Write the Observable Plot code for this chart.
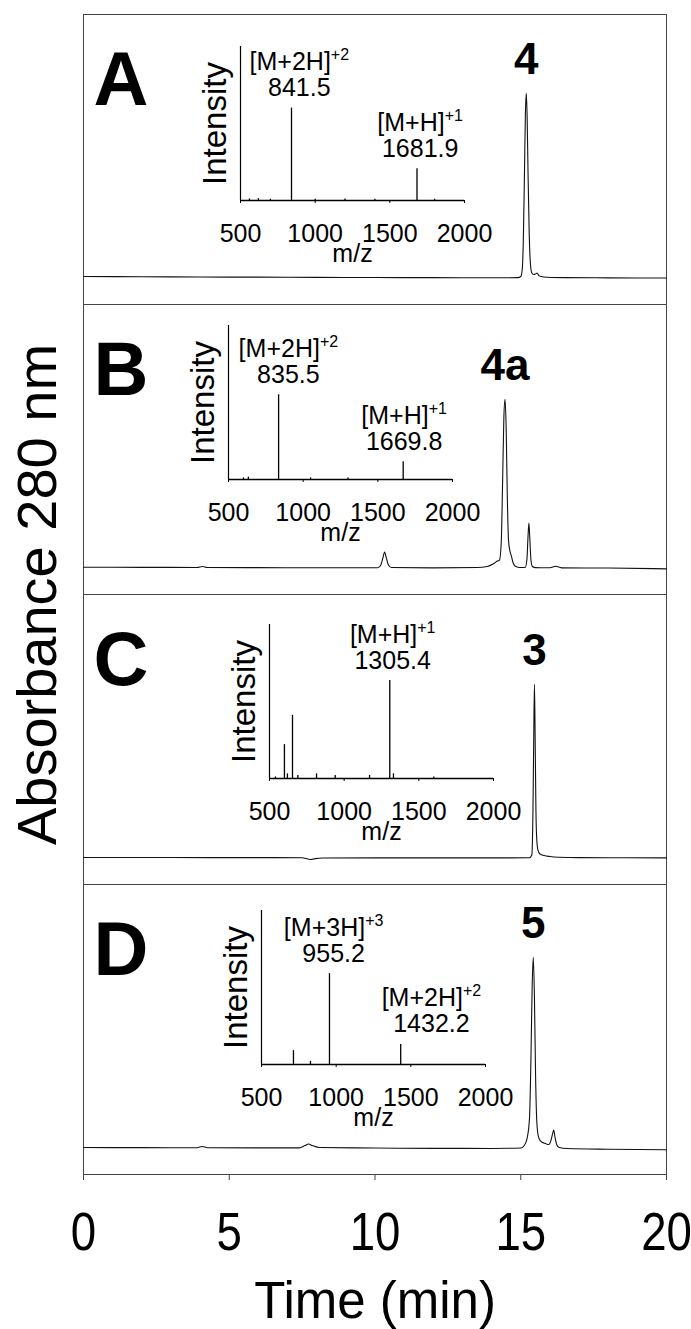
<!DOCTYPE html>
<html><head><meta charset="utf-8">
<script src="https://cdn.jsdelivr.net/npm/d3@7"></script>
<script src="https://cdn.jsdelivr.net/npm/@observablehq/plot@0.6"></script>
<style>
body{margin:0;background:#fff}
#wrap{position:relative;width:691px;height:1329px;overflow:hidden;background:#fff}
#wrap svg{position:absolute;left:0;top:0}
</style></head><body><div id="wrap"></div>
<script>
// ---------- data ----------
const panels = ["A", "B", "C", "D"];
const compounds = ["4", "4a", "3", "5"];
const xTicks = [0, 5, 10, 15, 20];
const mzTicks = [500, 1000, 1500, 2000];
const xTitle = "Time (min)";
const yTitle = "Absorbance 280 nm";

// chromatograms (time in min, absorbance in arbitrary units)
const timeA = [0, 2, 4, 6, 8, 10, 12, 14, 14.9, 15.0, 15.05, 15.09, 15.13, 15.16, 15.19, 15.22, 15.25, 15.29, 15.33, 15.38, 15.44, 15.5, 15.56, 15.62, 15.7, 15.9, 16.5, 18, 20];
const absA  = [1.5, 1.3, 1.0, 0.9, 0.7, 0.5, 0.4, 0.3, 0.4, 1.5, 8, 40, 110, 165, 185, 160, 105, 45, 15, 5, 3.5, 4, 5, 2.5, 1.5, 0.8, 0.4, 0.2, 0];
const timeB = [0, 2, 3.9, 4.08, 4.25, 6, 8, 10.1, 10.2, 10.27, 10.33, 10.39, 10.46, 10.56, 12, 13.5, 13.85, 14.05, 14.2, 14.27, 14.33, 14.38, 14.42, 14.46, 14.5, 14.54, 14.58, 14.63, 14.68, 14.74, 14.8, 14.95, 15.15, 15.21, 15.25, 15.28, 15.31, 15.35, 15.4, 15.5, 16.0, 16.2, 16.4, 18, 20];
const absB  = [0.8, 0.7, 0.6, 1.6, 0.6, 0.4, 0.3, 0.3, 3, 10, 16, 10, 3, 0.5, 0.2, 0.5, 1.5, 4, 7, 8, 25, 90, 150, 169, 140, 70, 28, 17, 12, 5, 2, 0.6, 0.6, 8, 32, 45, 30, 8, 1.5, 0.4, 0.3, 1.8, 0.2, 0, -0.8];
const timeC = [0, 3, 6, 7.5, 7.7, 7.8, 7.95, 8.2, 10, 12, 14, 15.3, 15.38, 15.42, 15.445, 15.47, 15.495, 15.52, 15.55, 15.59, 15.66, 15.8, 16.0, 16.3, 17, 18.5, 20];
const absC  = [0.6, 0.5, 0.4, 0.3, -1.0, -1.5, -0.6, 0.1, 0.2, 0.2, 0.2, 0.3, 3, 50, 120, 174, 118, 50, 18, 8, 4, 2.5, 1.5, 0.8, 0.4, 0.3, 0.2];
const timeD = [0, 2, 3.9, 4.08, 4.25, 6, 7.4, 7.6, 7.72, 7.85, 8.1, 10, 12, 14, 15.0, 15.12, 15.22, 15.3, 15.35, 15.39, 15.43, 15.47, 15.51, 15.56, 15.62, 15.72, 15.85, 15.96, 16.04, 16.09, 16.13, 16.18, 16.24, 16.32, 16.6, 18, 20];
const absD  = [0.5, 0.4, 0.3, 1.6, 0.3, 0.2, 0.2, 2.5, 4, 2.5, 0.5, 0, -0.3, -0.4, 0, 2.5, 10, 30, 90, 160, 191, 150, 70, 22, 10, 6, 4.5, 3.5, 8, 14, 18, 10, 3, 0.5, -0.5, -1.2, -1.7];

// mass spectra (m/z, relative intensity)
const mzA  = [560, 620, 700, 841.5, 1000, 1200, 1400, 1681.9, 1800];
const intA = [0.01, 0.012, 0.008, 0.60, 0.008, 0.01, 0.008, 0.206, 0.008];
const mzB  = [600, 633, 835.5, 1050, 1300, 1669.8];
const intB = [0.01, 0.015, 0.55, 0.01, 0.01, 0.115];
const mzC  = [540, 600, 620, 654, 690, 815, 940, 1170, 1305.4, 1330, 1600];
const intC = [0.01, 0.22, 0.03, 0.41, 0.02, 0.03, 0.02, 0.02, 0.636, 0.03, 0.01];
const mzD  = [714, 828, 955.2, 1432.2];
const intD = [0.09, 0.02, 0.59, 0.13];

// annotated ions: label, m/z, intensity, m/z where the label is centred
const ionNameA = ["[M+2H]^+2", "[M+H]^+1"], ionMzA = [841.5, 1681.9], ionIntA = [0.60, 0.206], ionAtA = [894, 1703];
const ionNameB = ["[M+2H]^+2", "[M+H]^+1"], ionMzB = [835.5, 1669.8], ionIntB = [0.55, 0.115], ionAtB = [901, 1676];
const ionNameC = ["[M+H]^+1"], ionMzC = [1305.4], ionIntC = [0.636], ionAtC = [1325];
const ionNameD = ["[M+3H]^+3", "[M+2H]^+2"], ionMzD = [955.2, 1432.2], ionIntD = [0.59, 0.13], ionAtD = [983, 1638];

// ---------- tables ----------
const traces = {A: [timeA, absA], B: [timeB, absB], C: [timeC, absC], D: [timeD, absD]};
const chrom = panels.flatMap(p => traces[p][0].map((t, i) => ({panel: p, t, a: traces[p][1][i]})));
const compoundLabels = panels.map((p, k) => {
  const apex = d3.greatest(chrom.filter(d => d.panel === p), d => d.a);
  return {panel: p, name: compounds[k], t: apex.t, a: apex.a};
});
const spectra = {
  A: mzA.map((mz, i) => ({mz, i: intA[i]})),
  B: mzB.map((mz, i) => ({mz, i: intB[i]})),
  C: mzC.map((mz, i) => ({mz, i: intC[i]})),
  D: mzD.map((mz, i) => ({mz, i: intD[i]}))
};
const ionTable = (n, m, y, at) => n.map((ion, k) => ({ion, mz: m[k], i: y[k], at: at[k]}));
const ions = {
  A: ionTable(ionNameA, ionMzA, ionIntA, ionAtA),
  B: ionTable(ionNameB, ionMzB, ionIntB, ionAtB),
  C: ionTable(ionNameC, ionMzC, ionIntC, ionAtC),
  D: ionTable(ionNameD, ionMzD, ionIntD, ionAtD)
};

// ---------- layout ----------
const SANS = "'Liberation Sans', Arial, Helvetica, sans-serif";
const wrap = document.getElementById("wrap");

function supify(svg) {
  svg.querySelectorAll("text, tspan").forEach(el => {
    if (el.children.length === 0 && el.textContent.includes("^")) {
      const [base, sup] = el.textContent.split("^");
      el.textContent = base;
      const s = document.createElementNS("http://www.w3.org/2000/svg", "tspan");
      s.setAttribute("font-size", "16");
      s.setAttribute("dy", "-10");
      s.textContent = sup;
      el.appendChild(s);
    }
  });
}

const main = Plot.plot({
  width: 691, height: 1329,
  marginLeft: 83, marginRight: 25, marginTop: 13, marginBottom: 154,
  style: {fontFamily: SANS, background: "transparent", overflow: "visible"},
  x: {domain: [0, 20]},
  y: {domain: [-26.5, 264], axis: null},
  fy: {domain: panels, padding: 0, axis: null},
  marks: [
    Plot.frame({stroke: "#444", strokeWidth: 1}),
    Plot.line(chrom, {x: "t", y: "a", fy: "panel", stroke: "#111", strokeWidth: 1.1, curve: "monotone-x"}),
    Plot.axisX({ticks: xTicks, tickSize: 6, tickPadding: 32, fontSize: 53, stroke: "#444", facetAnchor: "bottom", label: null}),
    Plot.text(panels, {fy: d => d, text: d => d, frameAnchor: "top-left", dx: 10, dy: 90.5, lineAnchor: "bottom", textAnchor: "start", fontSize: 76, fontWeight: "bold"}),
    Plot.text(compoundLabels, {x: "t", y: "a", fy: "panel", text: "name", dy: -19, lineAnchor: "bottom", fontSize: 44, fontWeight: "bold"}),
    Plot.text([yTitle], {fy: () => "B", frameAnchor: "bottom-left", dx: -28, rotate: -90, textAnchor: "middle", lineAnchor: "bottom", fontSize: 56}),
    Plot.text([xTitle], {fy: () => "D", frameAnchor: "bottom", dy: 143, textAnchor: "middle", lineAnchor: "bottom", fontSize: 51})
  ]
});
wrap.appendChild(main);
// condensed tick numerals, as in the original figure
main.querySelectorAll('g[aria-label="x-axis tick label"] text').forEach(t => {
  const len = t.getComputedTextLength();
  t.setAttribute("textLength", (len * 0.86).toFixed(1));
  t.setAttribute("lengthAdjust", "spacingAndGlyphs");
});

const insetBox = {A: {left: 240, top: 46}, B: {left: 228, top: 325}, C: {left: 269, top: 624}, D: {left: 261, top: 910}};
const IW = 224, IH = 154;
for (const p of panels) {
  const ml = 75, mr = 50, mt = 12, mb = 75;
  const svg = Plot.plot({
    width: ml + IW + mr, height: mt + IH + mb,
    marginLeft: ml, marginRight: mr, marginTop: mt, marginBottom: mb,
    style: {fontFamily: SANS, background: "transparent", overflow: "visible"},
    x: {domain: [500, 2000]},
    y: {domain: [0, 1], axis: null},
    marks: [
      Plot.ruleX(spectra[p], {x: "mz", y1: 0, y2: "i", stroke: "#000", strokeWidth: 1.3}),
      Plot.ruleY([0], {stroke: "#000", strokeWidth: 1.5}),
      Plot.ruleX([500], {y1: 0, y2: 1, stroke: "#000", strokeWidth: 1.2}),
      Plot.axisX({ticks: mzTicks, tickFormat: d => String(d), tickSize: 3, tickPadding: 21, fontSize: 25, label: null}),
      Plot.text(["m/z"], {frameAnchor: "bottom", dy: 61, textAnchor: "middle", lineAnchor: "bottom", fontSize: 25}),
      Plot.text(["Intensity"], {frameAnchor: "left", dx: -15, rotate: -90, textAnchor: "middle", lineAnchor: "bottom", fontSize: 33}),
      Plot.text(ions[p], {x: "at", y: "i", text: "ion", dy: -38, textAnchor: "middle", lineAnchor: "bottom", fontSize: 25}),
      Plot.text(ions[p], {x: "at", y: "i", text: d => d.mz.toFixed(1), dy: -12, textAnchor: "middle", lineAnchor: "bottom", fontSize: 25})
    ]
  });
  svg.style.left = (insetBox[p].left - ml) + "px";
  svg.style.top = (insetBox[p].top - mt) + "px";
  supify(svg);
  wrap.appendChild(svg);
}
</script></body></html>
